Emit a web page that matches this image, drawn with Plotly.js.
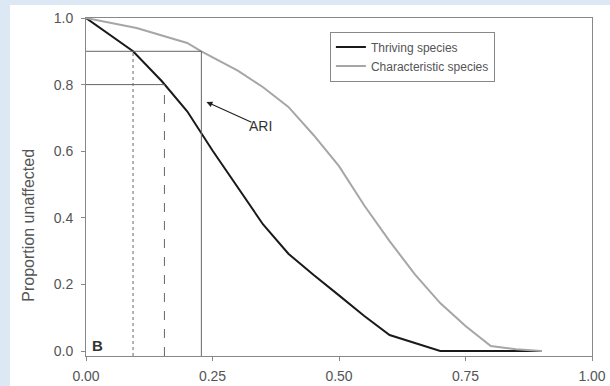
<!DOCTYPE html>
<html>
<head>
<meta charset="utf-8">
<script src="https://cdn.plot.ly/plotly-3.0.1.min.js"></script>
<style>
html,body{margin:0;padding:0;background:#dce9f5;width:610px;height:386px;overflow:hidden;}
#chart{position:absolute;left:10px;top:5px;width:600px;height:381px;background:#fff;}
</style>
</head>
<body>
<div id="chart"></div>
<script>
// Data
const thrivingX = [0, 0.093, 0.15, 0.2, 0.25, 0.3, 0.35, 0.4, 0.45, 0.5, 0.55, 0.6, 0.65, 0.7, 0.8, 0.9];
const thrivingY = [1.0, 0.9, 0.81, 0.72, 0.602, 0.489, 0.38, 0.292, 0.228, 0.167, 0.105, 0.048, 0.025, 0.0, 0.0, 0.0];
const charX = [0, 0.1, 0.2, 0.228, 0.3, 0.35, 0.4, 0.45, 0.5, 0.55, 0.6, 0.65, 0.7, 0.75, 0.8, 0.85, 0.9];
const charY = [1.0, 0.97, 0.925, 0.9, 0.842, 0.792, 0.733, 0.648, 0.555, 0.437, 0.33, 0.23, 0.144, 0.075, 0.015, 0.005, 0.0];
const seriesNames = ["Thriving species", "Characteristic species"];
const yTitle = "Proportion unaffected";
// reference (threshold) lines: proportion level and corresponding x
const refLevels = [0.9, 0.8, 0.9];
const refX = [0.093, 0.155, 0.228];
const refDash = ["dot", "dash", "solid"];
const yTicks = [0, 0.2, 0.4, 0.6, 0.8, 1.0];
const xTicks = [0, 0.25, 0.5, 0.75, 1.0];

const traces = [
  {x: thrivingX, y: thrivingY, name: seriesNames[0], mode: "lines",
   line: {color: "#1a1a1a", width: 2}},
  {x: charX, y: charY, name: seriesNames[1], mode: "lines",
   line: {color: "#a6a6a6", width: 2}}
];

const shapes = [];
shapes.push({type: "line", xref: "x", yref: "y", x0: 0, x1: refX[2], y0: refLevels[2], y1: refLevels[2],
  line: {color: "#666", width: 1}});
shapes.push({type: "line", xref: "x", yref: "y", x0: 0, x1: refX[1], y0: refLevels[1], y1: refLevels[1],
  line: {color: "#666", width: 1}});
for (let i = 0; i < refX.length; i++) {
  shapes.push({type: "line", xref: "x", yref: "y", x0: refX[i], x1: refX[i], y0: -0.015, y1: refLevels[i],
    line: {color: "#666", width: 1, dash: refDash[i]}});
}

const layout = {
  width: 600, height: 381,
  margin: {l: 76, r: 18, t: 13, b: 30},
  paper_bgcolor: "#ffffff", plot_bgcolor: "#ffffff",
  font: {family: "Arial, Liberation Sans, sans-serif", size: 13, color: "#444"},
  showlegend: true,
  legend: {x: 0.482, y: 0.96, xanchor: "left", yanchor: "top",
    bordercolor: "#888", borderwidth: 1, bgcolor: "#fff",
    font: {size: 12, color: "#555"}, tracegroupgap: 0},
  xaxis: {range: [0, 1], tickvals: xTicks, tickformat: ".2f", ticks: "outside", ticklen: 4,
    tickcolor: "#888", showgrid: false, zeroline: false, showline: true, linecolor: "#888",
    linewidth: 1, mirror: true, tickfont: {size: 14, color: "#555"}, ticklabelstandoff: 3},
  yaxis: {range: [-0.015, 1.0], tickvals: yTicks, tickformat: ".1f", ticks: "outside", ticklen: 4,
    tickcolor: "#888", showgrid: false, zeroline: false, showline: true, linecolor: "#888",
    linewidth: 1, mirror: true, tickfont: {size: 14, color: "#555"}, ticklabelstandoff: 5},
  shapes: shapes,
  annotations: [
    {x: -0.113, y: 0.388, xref: "paper", yref: "paper", text: yTitle, textangle: -90,
     showarrow: false, xanchor: "center", yanchor: "middle", font: {size: 16, color: "#555"}},
    {x: 0.238, y: 0.748, xref: "x", yref: "y", ax: 0.33, ay: 0.685, axref: "x", ayref: "y",
     text: "", showarrow: true, arrowhead: 2, arrowsize: 1, arrowwidth: 1.2, arrowcolor: "#222"},
    {x: 0.344, y: 0.676, xref: "x", yref: "y", text: "ARI", showarrow: false,
     font: {size: 14, color: "#333"}},
    {x: 0.022, y: 0.018, xref: "x", yref: "y", text: "<b>B</b>", showarrow: false,
     font: {size: 15, color: "#333"}}
  ]
};

Plotly.newPlot("chart", traces, layout, {displayModeBar: false, staticPlot: true});
</script>
</body>
</html>
